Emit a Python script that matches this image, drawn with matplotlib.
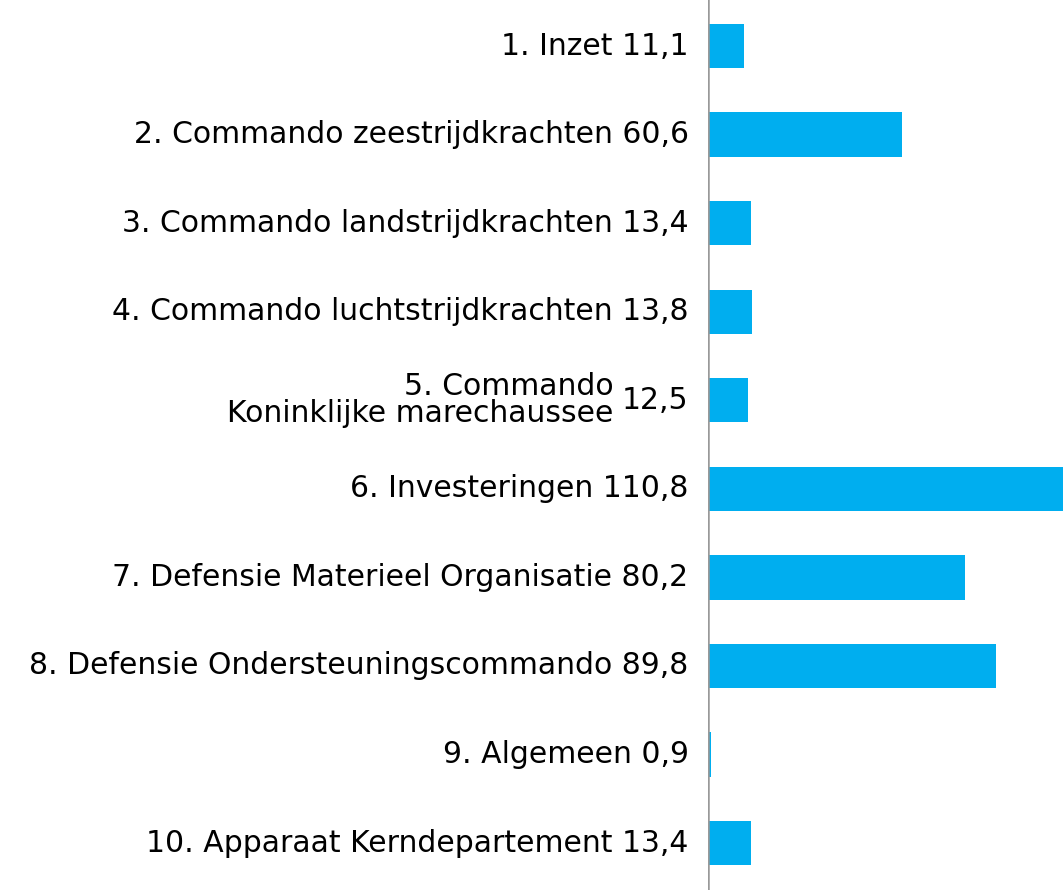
import numpy as np
import matplotlib.pyplot as plt

names = ["1. Inzet", "2. Commando zeestrijdkrachten", "3. Commando landstrijdkrachten",
         "4. Commando luchtstrijdkrachten", "5. Commando\nKoninklijke marechaussee",
         "6. Investeringen", "7. Defensie Materieel Organisatie",
         "8. Defensie Ondersteuningscommando", "9. Algemeen",
         "10. Apparaat Kerndepartement"]
values = [11.1, 60.6, 13.4, 13.8, 12.5, 110.8, 80.2, 89.8, 0.9, 13.4]
value_labels = ["11,1", "60,6", "13,4", "13,8", "12,5", "110,8", "80,2", "89,8", "0,9", "13,4"]

plt.rcParams['font.family'] = ['DejaVu Sans']

fig = plt.figure(figsize=(10.63, 8.90), dpi=100)
ax = fig.add_axes([708 / 1063, 0, 1 - 708 / 1063, 1])

y = np.arange(len(values))
ax.barh(y, values, height=0.5, color='#00aeef')
ax.set_xlim(0, 110.8)
ax.set_ylim(len(values) - 0.47, -0.52)
ax.axis('off')
ax.axvline(0, color='#999999', lw=1.8)

fs = 21.5
for i, (nm, vl) in enumerate(zip(names, value_labels)):
    if '\n' in nm:
        ax.annotate(vl, (0, i), xycoords=('axes fraction', 'data'),
                    xytext=(-14, 0), textcoords='offset points',
                    ha='right', va='center', fontsize=fs)
        ax.annotate(nm, (0, i), xycoords=('axes fraction', 'data'),
                    xytext=(-68, 0), textcoords='offset points',
                    ha='right', va='center', fontsize=fs, linespacing=0.9)
    else:
        ax.annotate(nm + ' ' + vl, (0, i), xycoords=('axes fraction', 'data'),
                    xytext=(-14, 0), textcoords='offset points',
                    ha='right', va='center', fontsize=fs)

fig.savefig('out.png', dpi=100)
